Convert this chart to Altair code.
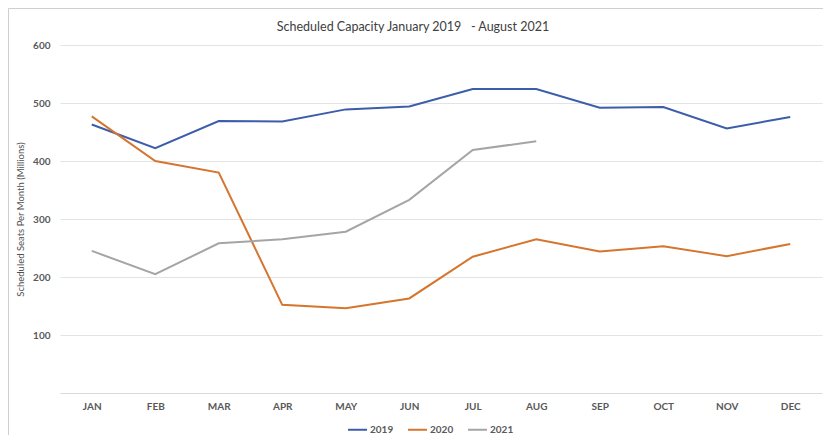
import altair as alt
import pandas as pd

months = ["JAN", "FEB", "MAR", "APR", "MAY", "JUN", "JUL", "AUG", "SEP", "OCT", "NOV", "DEC"]
y2019 = [463, 422, 469, 468, 489, 494, 524, 524, 492, 493, 456, 476]
y2020 = [477, 400, 380, 152, 146, 163, 235, 265, 244, 253, 236, 257]
y2021 = [245, 205, 258, 265, 278, 333, 419, 434]
series = ["2019", "2020", "2021"]
colors = ["#3C5DAA", "#D5752E", "#A5A5A5"]
y_ticks = [100, 200, 300, 400, 500, 600]
title_text = "Scheduled Capacity January 2019\u00a0\u00a0\u00a0- August 2021"

rows = []
for name, vals in zip(series, [y2019, y2020, y2021]):
    for m, v in zip(months, vals):
        rows.append({"Month": m, "Seats": v, "Year": name})
df = pd.DataFrame(rows)

W, H = 762, 348
FONT = "Lato"
TXT = "#595959"

lines = alt.Chart(df).mark_line(strokeWidth=2).encode(
    x=alt.X("Month:N", sort=months,
            scale=alt.Scale(type="point", padding=0.5),
            axis=alt.Axis(title=None, ticks=False, grid=False, labelAngle=0,
                          domainColor="#d9d9d9", labelPadding=8,
                          labelFontSize=10, labelFontWeight="bold", labelColor=TXT)),
    y=alt.Y("Seats:Q", scale=alt.Scale(domain=[0, 600], nice=False),
            axis=alt.Axis(values=y_ticks, title="Scheduled Seats Per Month (Millions)",
                          titleFontSize=9.5, titleFontWeight="normal", titleColor="#505050",
                          titlePadding=7, ticks=False, domain=False,
                          gridColor="#e3e3e3", labelPadding=10,
                          labelFontSize=10, labelFontWeight="bold", labelColor=TXT)),
    color=alt.Color("Year:N", scale=alt.Scale(domain=series, range=colors),
                    legend=alt.Legend(title=None, orient="none", direction="horizontal",
                                      legendX=287, legendY=374, symbolType="stroke",
                                      symbolSize=361, symbolStrokeWidth=2, labelOffset=2,
                                      columnPadding=10, labelFontSize=10,
                                      labelFontWeight="bold", labelColor=TXT)),
)

frame = alt.Chart(pd.DataFrame({"a": [0]})).mark_rect(
    fillOpacity=0, stroke="#cfcfcf", strokeWidth=1
).encode(
    x=alt.value(-51.5), x2=alt.value(W + 60), y=alt.value(-36.5), y2=alt.value(H + 100)
)

title = alt.Chart(pd.DataFrame({"t": [title_text]})).mark_text(
    fontSize=12.5, color="#404040", align="center", baseline="middle", font=FONT
).encode(
    text="t:N", x=alt.value(W / 2 - 28), y=alt.value(-18)
)

chart = alt.layer(frame, lines, title).properties(
    width=W, height=H,
    autosize=alt.AutoSizeParams(type="none"),
    padding={"left": 52, "top": 37, "right": 1, "bottom": 42},
).configure(font=FONT).configure_view(stroke=None)

chart.save("out.html", embed_options={"renderer": "svg", "actions": False})
